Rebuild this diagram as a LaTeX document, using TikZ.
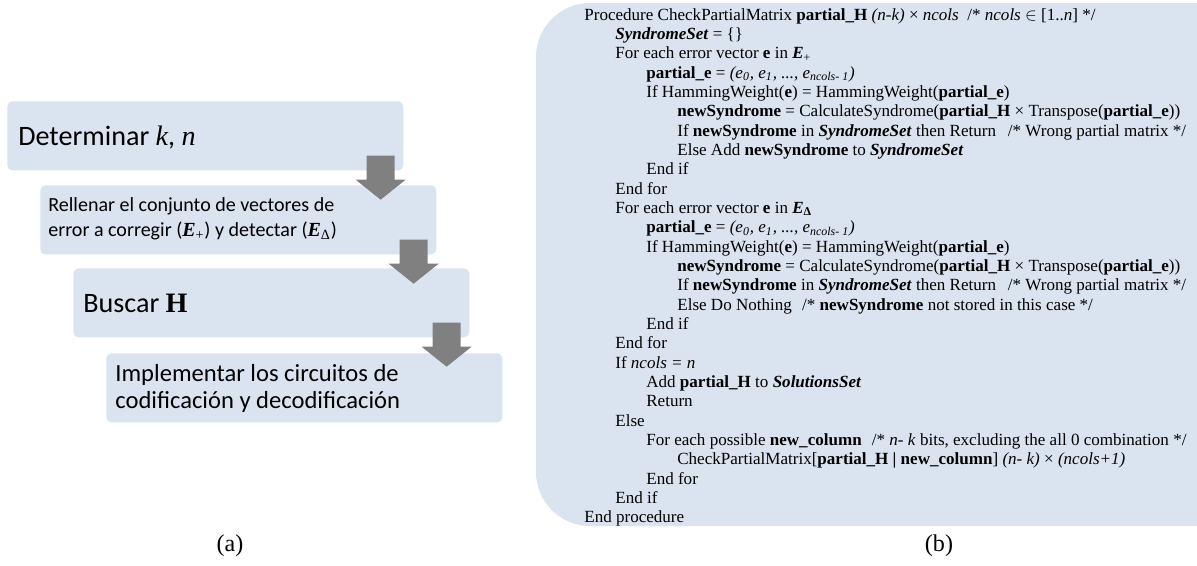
\documentclass[tikz,border=0pt]{standalone}
\usepackage{fontspec}
\setmainfont{Carlito}
\newfontfamily\tnr{Liberation Serif}
\definecolor{boxfill}{RGB}{218,227,240}
\definecolor{arrowgray}{RGB}{128,128,128}
\newcommand{\codefont}{\tnr\fontsize{9.7}{11}\selectfont}
\tikzset{
  stepbox/.style={fill=boxfill,rounded corners=0.1cm,minimum width=7.92cm,minimum height=1.38cm,anchor=north west,inner sep=0pt},
  steptext/.style={anchor=base west,inner sep=0pt},
  codeline/.style={anchor=base west,inner sep=0pt,font=\codefont},
  caption/.style={anchor=base,inner sep=0pt,font=\tnr\fontsize{13.7}{16}\selectfont},
  steparrow/.style={fill=arrowgray}
}
\begin{document}
\begin{tikzpicture}[x=0.02cm,y=-0.02cm]
\useasboundingbox (0,0) rectangle (1197,565);
% (a) steps
\node[stepbox] (b1) at (7,101) {};
\node[stepbox] (b2) at (40,185) {};
\node[stepbox] (b3) at (73,268) {};
\node[stepbox] (b4) at (106,353) {};
\node[steptext,font=\fontsize{16}{19}\selectfont] (t1) at (18,145) {Determinar {\tnr\itshape k}, {\tnr\itshape n}};
\node[steptext,font=\fontsize{11.4}{14}\selectfont] (t2a) at (48,211) {Rellenar el conjunto de vectores de};
\node[steptext,font=\fontsize{11.4}{14}\selectfont] (t2b) at (48,236.5) {error a corregir ({\tnr\bfseries\itshape E}\textsubscript{\tnr +}) y detectar ({\tnr\bfseries\itshape E}\textsubscript{\tnr Δ})};
\node[steptext,font=\fontsize{16}{19}\selectfont] (t3) at (83,312) {Buscar {\tnr\bfseries H}};
\node[steptext,font=\fontsize{14}{17}\selectfont] (t4a) at (115,381.5) {Implementar los circuitos de};
\node[steptext,font=\fontsize{14}{17}\selectfont] (t4b) at (115,408) {codificación y decodificación};
\foreach \a in {1,2,3}
  \fill[steparrow] ([shift={(-37,-15)}]b\a.south east) -- ++(28,0) -- ++(0,24) -- ++(11,0)
    -- ++(-25,20) -- ++(-25,-20) -- ++(11,0) -- cycle;
% (b) procedure
\begin{scope}
\clip (0,0) rectangle (1197,565);
\fill[boxfill,rounded corners=1.08cm] (536,3) rectangle (1260,526);
\end{scope}
\node[codeline] (l1) at (584,20) {Procedure CheckPartialMatrix \textbf{partial\_H} \textit{(n-k)} × \textit{ncols}\hspace{0.5em}/* \textit{ncols} $\in$ [1..\textit{n}] */};
\node[codeline] (l2) at (615,39.3) {\textbf{\textit{SyndromeSet}} = \{\}};
\node[codeline] (l3) at (615,58.7) {For each error vector \textbf{e} in \textbf{\textit{E}}\textsubscript{+}};
\node[codeline] (l4) at (646,78) {\textbf{partial\_e} = \textit{(e\textsubscript{0}, e\textsubscript{1}, ..., e\textsubscript{ncols- 1})}};
\node[codeline] (l5) at (646,97.3) {If HammingWeight(\textbf{e}) = HammingWeight(\textbf{partial\_e})};
\node[codeline] (l6) at (677,116.7) {\textbf{newSyndrome} = CalculateSyndrome(\textbf{partial\_H} × Transpose(\textbf{partial\_e}))};
\node[codeline] (l7) at (677,136) {If \textbf{newSyndrome} in \textbf{\textit{SyndromeSet}} then Return\hspace{0.7em}/* Wrong partial matrix */};
\node[codeline] (l8) at (677,155.3) {Else Add \textbf{newSyndrome} to \textbf{\textit{SyndromeSet}}};
\node[codeline] (l9) at (646,174.7) {End if};
\node[codeline] (l10) at (615,194) {End for};
\node[codeline] (l11) at (615,213.3) {For each error vector \textbf{e} in \textbf{\textit{E}}\textsubscript{\textbf{Δ}}};
\node[codeline] (l12) at (646,232.7) {\textbf{partial\_e} = \textit{(e\textsubscript{0}, e\textsubscript{1}, ..., e\textsubscript{ncols- 1})}};
\node[codeline] (l13) at (646,252) {If HammingWeight(\textbf{e}) = HammingWeight(\textbf{partial\_e})};
\node[codeline] (l14) at (677,271.3) {\textbf{newSyndrome} = CalculateSyndrome(\textbf{partial\_H} × Transpose(\textbf{partial\_e}))};
\node[codeline] (l15) at (677,290.7) {If \textbf{newSyndrome} in \textbf{\textit{SyndromeSet}} then Return\hspace{0.7em}/* Wrong partial matrix */};
\node[codeline] (l16) at (677,310) {Else Do Nothing\hspace{0.6em}/* \textbf{newSyndrome} not stored in this case */};
\node[codeline] (l17) at (646,329.3) {End if};
\node[codeline] (l18) at (615,348.7) {End for};
\node[codeline] (l19) at (615,368) {If \textit{ncols = n}};
\node[codeline] (l20) at (646,387.3) {Add \textbf{partial\_H} to \textbf{\textit{SolutionsSet}}};
\node[codeline] (l21) at (646,406.7) {Return};
\node[codeline] (l22) at (615,426) {Else};
\node[codeline] (l23) at (646,445.3) {For each possible \textbf{new\_column}\hspace{0.6em}/* \textit{n- k} bits, excluding the all 0 combination */};
\node[codeline] (l24) at (677,464.7) {CheckPartialMatrix[\textbf{partial\_H | new\_column}] \textit{(n- k)} × \textit{(ncols+1)}};
\node[codeline] (l25) at (646,484) {End for};
\node[codeline] (l26) at (615,503.3) {End if};
\node[codeline] (l27) at (584,522.7) {End procedure};
% captions
\node[caption] (capa) at (230,551) {(a)};
\node[caption] (capb) at (939,551) {(b)};
\end{tikzpicture}
\end{document}
